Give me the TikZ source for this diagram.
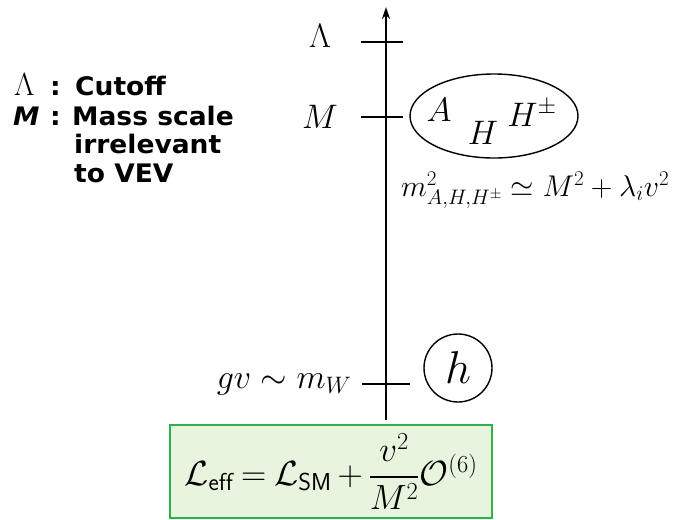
\RequirePackage{fix-cm}
\documentclass[tikz,border=0pt]{standalone}
\usepackage{amsmath,amssymb}
\usepackage{fontspec}
\newfontfamily\gothic{DejaVu Sans}[FakeStretch=1.04]
\usepackage{tikz}
\usetikzlibrary{arrows.meta,calc,positioning,shapes.geometric}
\definecolor{boxfill}{RGB}{233,244,222}
\definecolor{boxline}{RGB}{45,178,75}

\begin{document}
\begin{tikzpicture}[x=1pt,y=-1pt,
  tick/.style={line width=1.6pt},
  lbl/.style={font=\fontsize{34}{34}\selectfont},
  note/.style={font=\gothic\bfseries\fontsize{25.5}{27}\selectfont,anchor=base west,inner sep=0pt}]
\useasboundingbox (0,0) rectangle (673,520);
\node[draw=boxline,fill=boxfill,line width=1.2pt,minimum width=322pt,minimum height=93pt,inner sep=0pt] (leff) at (331,471.5) {\fontsize{35}{35}\selectfont\medmuskip=3mu\thickmuskip=4mu $\mathcal{L}_{\mathsf{eff}}=\mathcal{L}_{\mathsf{SM}}+\dfrac{v^2}{M^2}\mathcal{O}^{(6)}$};
\coordinate (axbot) at (386,420);
\coordinate (axtop) at (386,7);
\draw[line width=2.8pt,-{Stealth[length=12pt,width=8pt]}] (axbot) -- (axtop);
\coordinate (lamL) at (361,42); \coordinate (lamR) at (403,42);
\coordinate (mL) at (361,117); \coordinate (mR) at (403,117);
\coordinate (gvL) at (362,384); \coordinate (gvR) at (410,384);
\draw[tick] (lamL) -- (lamR);
\draw[tick] (mL) -- (mR);
\draw[tick] (gvL) -- (gvR);
\node[lbl] (lamlab) at (320,36) {$\Lambda$};
\node[lbl] (mlab) at (320,117) {$M$};
\node[lbl,anchor=base east] (gvlab) at (355,388) {$gv\sim m_W$};
\node[draw,ellipse,line width=1.4pt,minimum width=168pt,minimum height=84pt] (heavy) at (494,116) {};
\node[lbl] (pa) at (439,110) {$A$};
\node[lbl] (ph) at (483,133) {$H$};
\node[lbl] (phpm) at (532,113) {$H^\pm$};
\node[anchor=base west,inner sep=0pt,font=\fontsize{30}{30}\selectfont] (mass) at (401,196) {$m^2_{A,H,H^\pm}\simeq M^2+\lambda_i v^2$};
\node[draw,circle,line width=1.4pt,minimum size=68pt,inner sep=0pt,font=\fontsize{46}{46}\selectfont] (light) at (458,368) {$h$};
\node[note] (lamsym) at (14,95) {\normalfont\fontsize{32}{30}\selectfont$\Lambda$};
\node[note] (lamcol) at (50,95) {:};
\node[note] (cutoff) at (75,95) {Cutoff};
\node[note] (msym) at (13,125) {\itshape M};
\node[note] (mcol) at (50,125) {:};
\node[note] (mdesc) at (72,125) {Mass scale};
\node[note] (irr) at (74,153) {irrelevant};
\node[note] (vev) at (74,182) {to VEV};
\end{tikzpicture}
\end{document}
